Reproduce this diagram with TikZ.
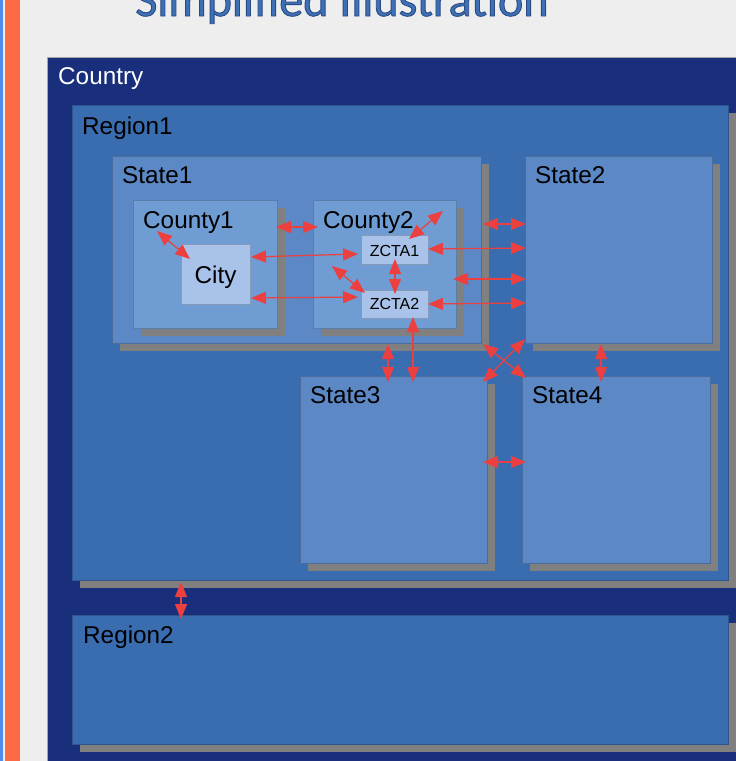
\documentclass[tikz,border=0pt]{standalone}
\usepackage{fontspec}
\setmainfont{Liberation Sans}
\newfontfamily\titlefont{Carlito}
\usetikzlibrary{arrows.meta,shadows}
\definecolor{bgc}{RGB}{238,238,238}
\definecolor{countryc}{RGB}{25,47,123}
\definecolor{regionc}{RGB}{58,108,176}
\definecolor{statec}{RGB}{92,136,197}
\definecolor{countyc}{RGB}{111,157,211}
\definecolor{cityc}{RGB}{168,194,233}
\definecolor{shadowc}{RGB}{128,128,128}
\definecolor{arrc}{RGB}{236,64,64}
\definecolor{titlec}{RGB}{62,112,182}
\definecolor{stripblue}{RGB}{80,140,235}
\definecolor{striporange}{RGB}{255,106,70}
\tikzset{
  box/.style={rectangle, anchor=north west, inner sep=0pt, outer sep=0pt,
    fill=#1, draw=#1!80!black, line width=0.7pt},
  shad/.style={drop shadow={shadow xshift=8pt, shadow yshift=-8pt, fill=shadowc, opacity=1}},
  lbl/.style={anchor=base west, inner sep=0pt, font=\fontsize{24.3}{28}\selectfont, text=black},
  slbl/.style={anchor=base, inner sep=0pt, font=\fontsize{16}{19}\selectfont, text=black},
  arr/.style={draw=arrc, line width=1.2pt, {Triangle[length=15pt,width=12pt]}-{Triangle[length=15pt,width=12pt]}, fill=arrc}
}
\begin{document}
\begin{tikzpicture}[x=1pt,y=-1pt]
\clip (0,0) rectangle (736,761);
\fill[bgc] (0,0) rectangle (736,761);
\fill[stripblue] (0,0) rectangle (2.7,761);
\fill[striporange] (4.7,0) rectangle (20,761);
% title
\node[anchor=base, inner sep=0pt, font=\titlefont\fontsize{48}{50}\selectfont, text=titlec] (title) at (342,16) {\special{pdf:literal direct 2 Tr 0.9 w 0.16 0.29 0.52 RG}Simplified Illustration\special{pdf:literal direct 0 Tr}};
% boxes
\node[box=countryc, draw=gray!70, minimum width=720pt, minimum height=740pt] (country) at (47,57) {};
\node[box=regionc, shad, minimum width=656pt, minimum height=475pt] (r1) at (72,105) {};
\node[box=regionc, shad, minimum width=656pt, minimum height=129pt] (r2) at (72,615) {};
\node[box=statec, shad, minimum width=369pt, minimum height=187pt] (st1) at (112,156) {};
\node[box=countyc, shad, minimum width=144pt, minimum height=128pt] (co1) at (133,200) {};
\node[box=countyc, shad, minimum width=143pt, minimum height=128pt] (co2) at (313,200) {};
\node[box=cityc, minimum width=69pt, minimum height=60pt] (city) at (181,244) {};
\node[box=cityc, minimum width=67pt, minimum height=29pt] (zc1) at (361,235) {};
\node[box=cityc, minimum width=67pt, minimum height=28pt] (zc2) at (361,290) {};
\node[box=statec, shad, minimum width=187pt, minimum height=187pt] (st2) at (525,156) {};
\node[box=statec, shad, minimum width=187pt, minimum height=187pt] (st3) at (300,376) {};
\node[box=statec, shad, minimum width=188pt, minimum height=187pt] (st4) at (522,376) {};
% labels
\node[lbl, text=white] (tcountry) at (58,84) {Country};
\node[lbl] (tr1) at (82,134) {Region1};
\node[lbl] (tr2) at (83,643) {Region2};
\node[lbl] (tst1) at (122,183) {State1};
\node[lbl] (tst2) at (535,183) {State2};
\node[lbl] (tst3) at (310,403) {State3};
\node[lbl] (tst4) at (532,403) {State4};
\node[lbl] (tco1) at (143,228) {County1};
\node[lbl] (tco2) at (323,228) {County2};
\node[lbl, anchor=base] (tcity) at (city.center |- 0,283) {City};
\node[slbl] (tzc1) at (zc1.center |- 0,256) {ZCTA1};
\node[slbl] (tzc2) at (zc2.center |- 0,309) {ZCTA2};
% arrow end points
\coordinate (a1) at (276,227); \coordinate (b1) at (318,227);
\coordinate (a2) at (157,231); \coordinate (b2) at (190,259);
\coordinate (a3) at (251,257); \coordinate (b3) at (358,254);
\coordinate (a4) at (251,298); \coordinate (b4) at (358,297);
\coordinate (a5) at (409,239); \coordinate (b5) at (443,211);
\coordinate (a6) at (395,259); \coordinate (b6) at (395,294);
\coordinate (a7) at (332,266); \coordinate (b7) at (365,293);
\coordinate (a8) at (428,249); \coordinate (b8) at (526,248);
\coordinate (a9) at (453,279); \coordinate (b9) at (526,279);
\coordinate (a10) at (428,304); \coordinate (b10) at (526,303);
\coordinate (a11) at (483,224); \coordinate (b11) at (526,224);
\coordinate (a12) at (413,317); \coordinate (b12) at (413,382);
\coordinate (a13) at (388,344); \coordinate (b13) at (388,382);
\coordinate (a14) at (483,344); \coordinate (b14) at (526,378);
\coordinate (a15) at (525,339); \coordinate (b15) at (483,382);
\coordinate (a16) at (601,344); \coordinate (b16) at (601,382);
\coordinate (a17) at (483,462); \coordinate (b17) at (526,462);
\coordinate (a18) at (181,582); \coordinate (b18) at (181,619);
% arrows
\draw[arr] (a1) -- (b1);
\draw[arr] (a2) -- (b2);
\draw[arr] (a3) -- (b3);
\draw[arr] (a4) -- (b4);
\draw[arr] (a5) -- (b5);
\draw[arr] (a6) -- (b6);
\draw[arr] (a7) -- (b7);
\draw[arr] (a8) -- (b8);
\draw[arr] (a9) -- (b9);
\draw[arr] (a10) -- (b10);
\draw[arr] (a11) -- (b11);
\draw[arr] (a12) -- (b12);
\draw[arr] (a13) -- (b13);
\draw[arr] (a14) -- (b14);
\draw[arr] (a15) -- (b15);
\draw[arr] (a16) -- (b16);
\draw[arr] (a17) -- (b17);
\draw[arr] (a18) -- (b18);
\end{tikzpicture}
\end{document}
